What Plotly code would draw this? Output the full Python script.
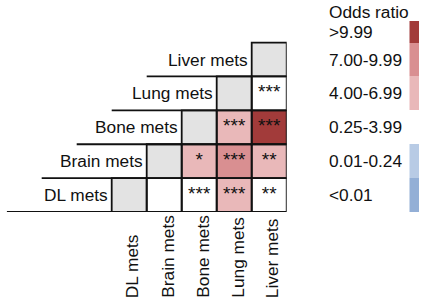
import plotly.graph_objects as go

# ---------------- data ----------------
sites = ["DL mets", "Brain mets", "Bone mets", "Lung mets", "Liver mets"]  # columns (left->right) and rows (bottom->top)

# odds-ratio class per cell (row = sites index, col = sites index); None = not drawn
# classes: 0 "<0.01", 1 "0.01-0.24", 2 "0.25-3.99", 3 "4.00-6.99", 4 "7.00-9.99", 5 ">9.99", 6 = diagonal
or_class = [
    [6, 2, 2, 3, 2],           # DL mets
    [None, 6, 3, 4, 3],        # Brain mets
    [None, None, 6, 3, 5],     # Bone mets
    [None, None, None, 6, 2],  # Lung mets
    [None, None, None, None, 6],  # Liver mets
]
signif = [
    ["", "", "***", "***", "**"],
    ["", "", "*", "***", "**"],
    ["", "", "", "***", "***"],
    ["", "", "", "", "***"],
    ["", "", "", "", ""],
]

legend_labels = ["<0.01", "0.01-0.24", "0.25-3.99", "4.00-6.99", "7.00-9.99", ">9.99"]
legend_title = "Odds ratio"
class_colors = ["#93afd6", "#b8cbe5", "#ffffff", "#e9b8b9", "#d98f91", "#a23b3a", "#e3e3e3"]

# ---------------- styling ----------------
FONT = "Arial, Liberation Sans, sans-serif"
FS = 17.3
STAR_FS = 19
W, H = 432, 305
n = len(sites)

# discrete colorscale
ncls = len(class_colors)
cs = []
for i, c in enumerate(class_colors):
    cs.append([i / ncls, c])
    cs.append([(i + 1) / ncls, c])

fig = go.Figure()

# main triangular heatmap
fig.add_trace(go.Heatmap(
    x=list(range(n)), y=list(range(n)), z=or_class,
    colorscale=cs, zmin=-0.5, zmax=ncls - 0.5, showscale=False,
    hoverinfo="skip", xaxis="x", yaxis="y",
))

# significance stars
sx, sy, st = [], [], []
for r in range(n):
    for c in range(n):
        if signif[r][c]:
            sx.append(c); sy.append(r); st.append(signif[r][c])
fig.add_trace(go.Scatter(
    x=sx, y=sy, text=st, mode="text", textposition="middle center",
    textfont=dict(family=FONT, size=STAR_FS, color="#111111"),
    hoverinfo="skip", showlegend=False, xaxis="x", yaxis="y",
))

# legend swatches as heatmap on second x axis sharing y
top_extra = 0.637
y_edges = [i - 0.5 for i in range(n + 1)] + [n - 0.5 + top_extra]
fig.add_trace(go.Heatmap(
    x=[0, 1], y=y_edges, z=[[k] for k in range(len(legend_labels))],
    colorscale=cs, zmin=-0.5, zmax=ncls - 0.5, showscale=False,
    hoverinfo="skip", xaxis="x2", yaxis="y",
))

# cell borders and staircase lines
shapes = []
LW = 1.8
LC = "#111111"
for r in range(n):
    for c in range(n):
        if or_class[r][c] is not None:
            shapes.append(dict(type="rect", xref="x", yref="y",
                               x0=c - 0.5, x1=c + 0.5, y0=r - 0.5, y1=r + 0.5,
                               line=dict(color=LC, width=LW), fillcolor="rgba(0,0,0,0)", layer="above"))
    shapes.append(dict(type="line", xref="x", yref="y",
                       x0=r - 3.5, x1=r - 0.5, y0=r - 0.5, y1=r - 0.5,
                       line=dict(color=LC, width=LW), layer="above"))

annotations = []
# row labels
for r, name in enumerate(sites):
    annotations.append(dict(x=r - 0.5, y=r, xref="x", yref="y", text=name, showarrow=False,
                            xanchor="right", yanchor="middle", xshift=-2,
                            font=dict(family=FONT, size=FS, color="#111111")))

# layout geometry (pixels)
ml, mr, mt, mb = 0, 0, 21, 93
plot_h = H - mt - mb
# column labels (rotated)
for c, name in enumerate(sites):
    annotations.append(dict(x=c, y=-(300 - (H - mb)) / plot_h, xref="x", yref="paper", text=name,
                            showarrow=False, textangle=-90, xanchor="center", yanchor="bottom",
                            xshift=3, font=dict(family=FONT, size=FS, color="#111111")))

# legend texts
leg_x = 326.7 / W
for k, lab in enumerate(legend_labels):
    yc = k if k < n else (n - 0.5 + (n - 0.5 + top_extra)) / 2
    annotations.append(dict(x=leg_x, y=yc, xref="paper", yref="y", text=lab, showarrow=False,
                            xanchor="left", yanchor="middle",
                            font=dict(family=FONT, size=FS, color="#111111")))
annotations.append(dict(x=leg_x, y=1 + (mt - 12) / plot_h, xref="paper", yref="paper",
                        text=legend_title, showarrow=False, xanchor="left", yanchor="middle",
                        font=dict(family=FONT, size=FS, color="#111111")))

ax_common = dict(showgrid=False, zeroline=False, showticklabels=False, showline=False, ticks="")
fig.update_layout(
    width=W, height=H,
    margin=dict(l=ml, r=mr, t=mt, b=mb, pad=0),
    paper_bgcolor="white", plot_bgcolor="rgba(0,0,0,0)",
    showlegend=False,
    xaxis=dict(range=[-3.5, n - 0.5], domain=[6.7 / W, 286.7 / W], **ax_common),
    xaxis2=dict(range=[0, 1], domain=[409.3 / W, 419 / W], anchor="y", **ax_common),
    yaxis=dict(range=[-0.5, n - 0.5 + top_extra], domain=[0, 1], **ax_common),
    shapes=shapes, annotations=annotations,
)

fig.write_html("out.html", config={"displayModeBar": False},
               post_script="document.body.style.margin='0';document.body.style.padding='0';")
